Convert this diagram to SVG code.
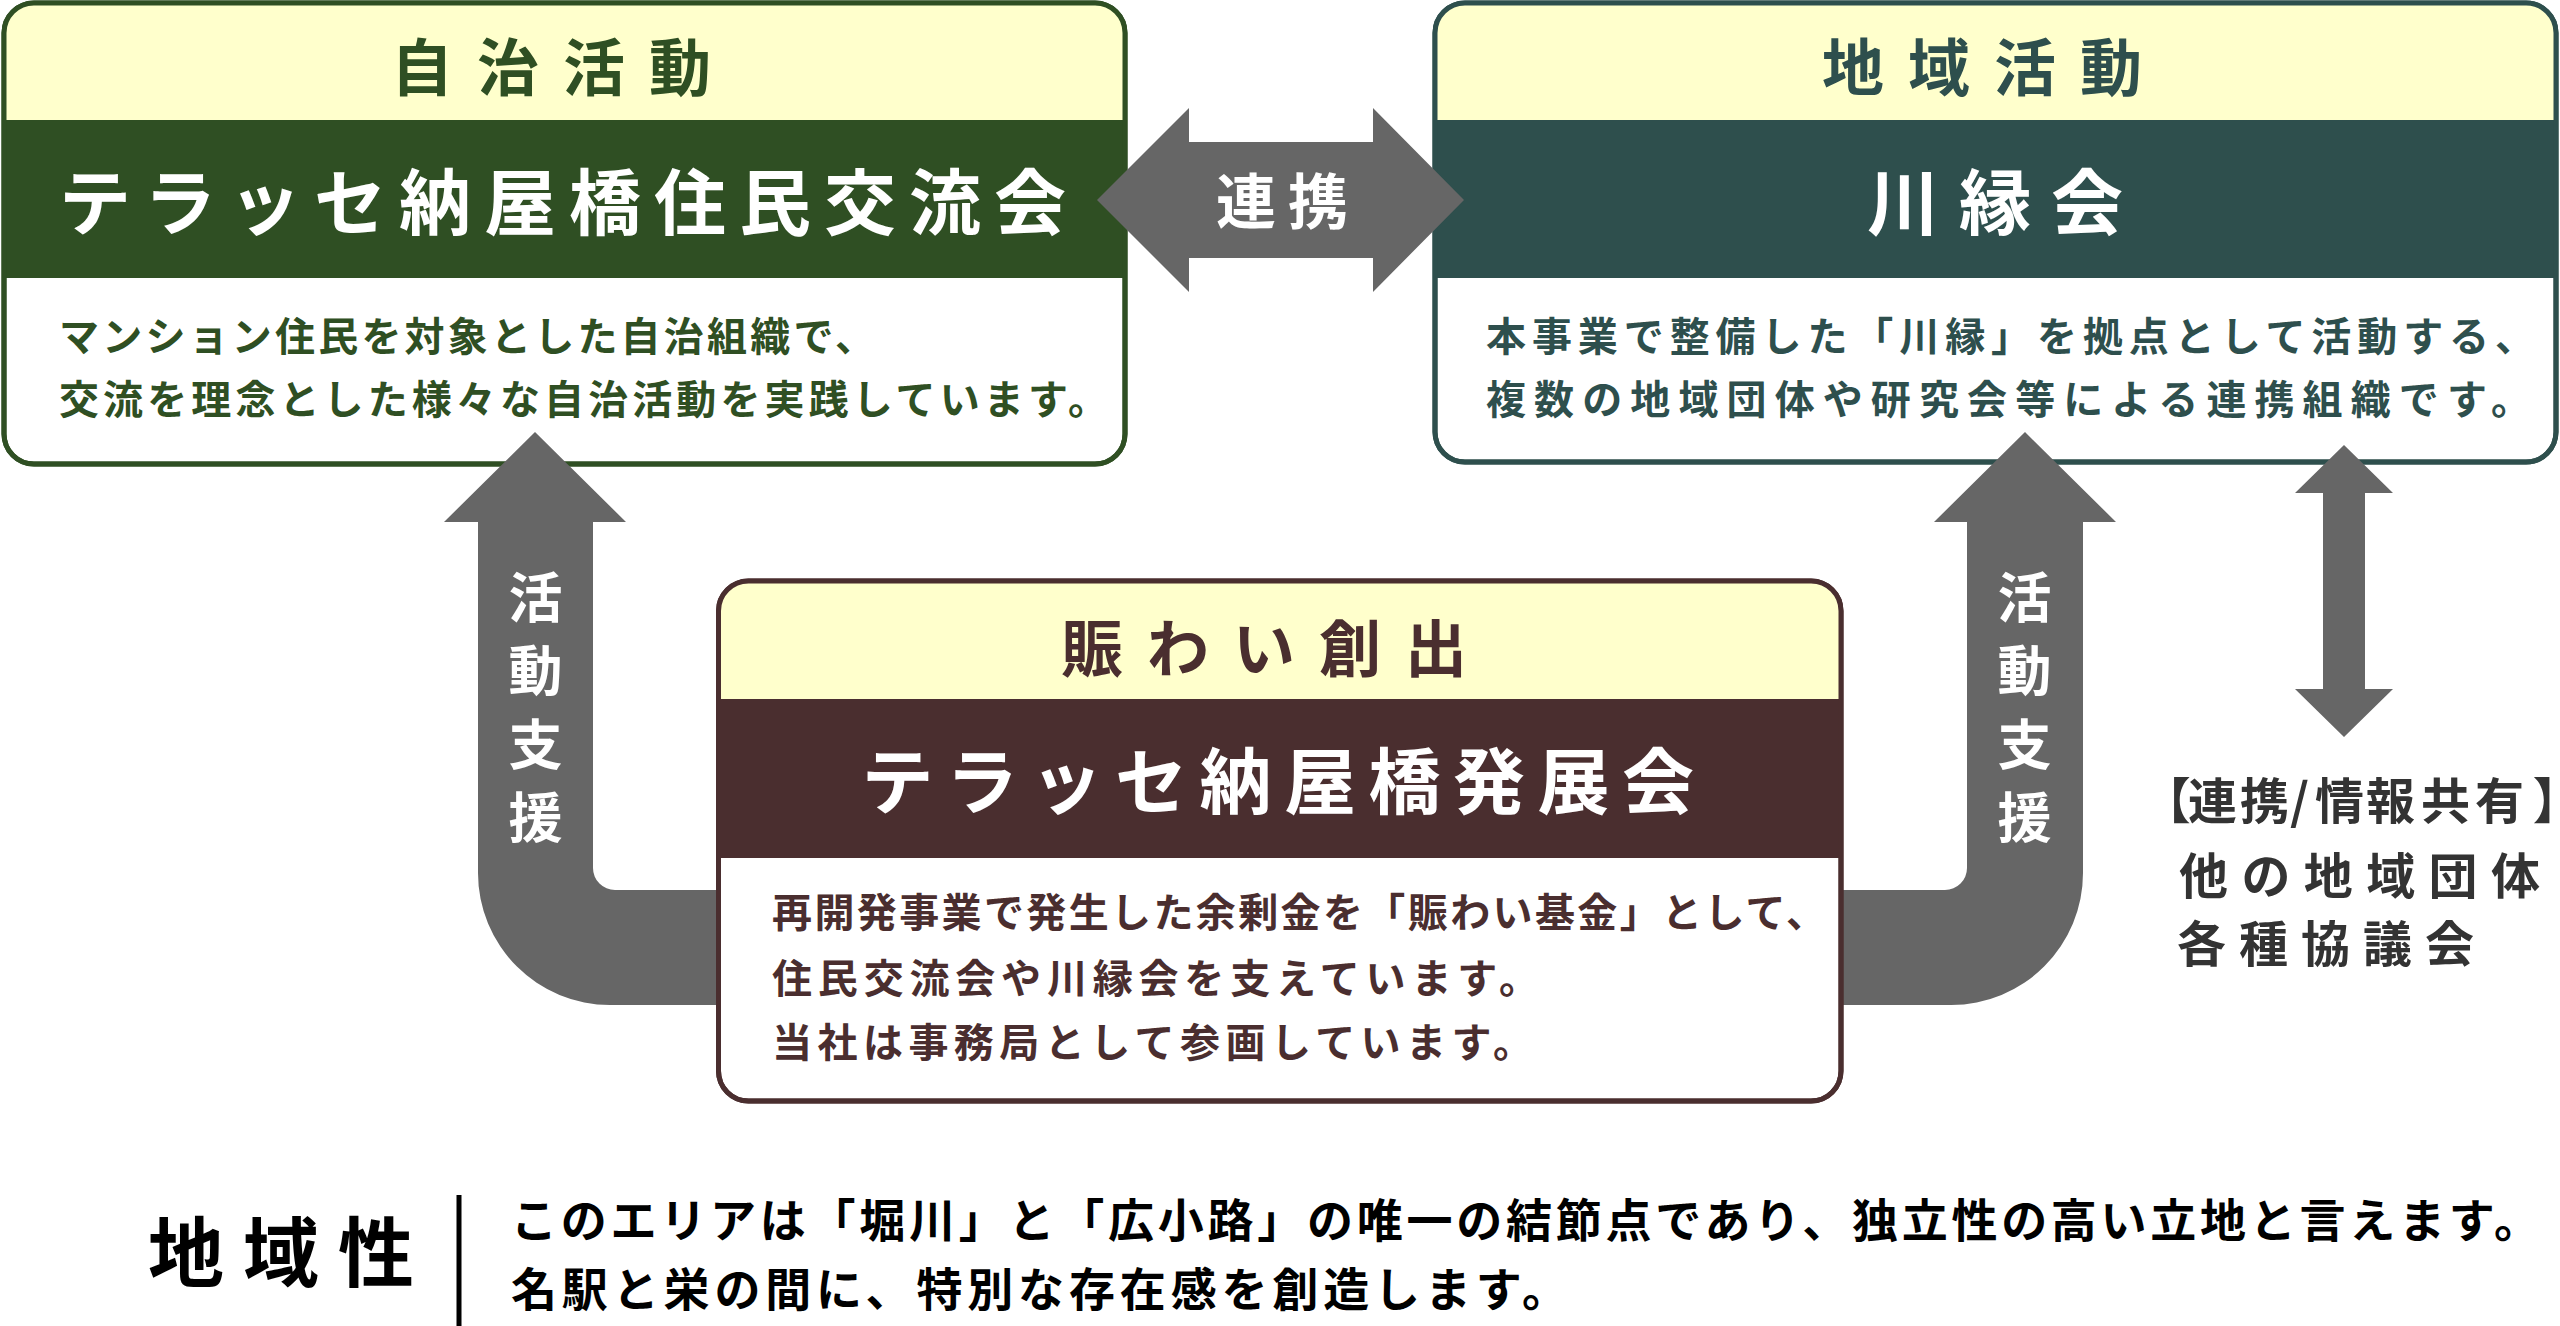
<svg xmlns="http://www.w3.org/2000/svg" width="2560" height="1326" viewBox="0 0 2560 1326">
<style>
text{font-family:"Noto Sans CJK JP","Noto Sans CJK SC",sans-serif;font-weight:700}
.box{fill:#ffffff;stroke-width:5}
.hdr{fill:#ffffcc}
.ttl{font-size:62px;letter-spacing:24px;text-anchor:middle}
.band{font-size:72px;fill:#ffffff;text-anchor:middle}
.desc{font-size:40px}
.arrow{fill:#666666}
.alab{fill:#ffffff;text-anchor:middle}
.grn{fill:#2f4f23}
.teal{fill:#2e4f4d}
.brn{fill:#4a2e2f}
.palt{font-feature-settings:"palt" 1}
</style>
<rect width="2560" height="1326" fill="#ffffff"/>

<g id="node-jichi">
<rect class="box" x="4" y="3" width="1121" height="461" rx="30" stroke="#2f4f23"/>
<path class="hdr" d="M4,120 V33 A30,30 0 0 1 34,3 H1095 A30,30 0 0 1 1125,33 V120 Z"/>
<rect class="grn" x="4" y="120" width="1121" height="158"/>
<rect x="4" y="3" width="1121" height="461" rx="30" fill="none" stroke="#2f4f23" stroke-width="5"/>
<text class="ttl grn" x="563" y="91">自治活動</text>
<text class="band" x="569" y="229" letter-spacing="13">テラッセ納屋橋住民交流会</text>
<text class="desc grn" x="59" y="351" textLength="816" lengthAdjust="spacing">マンション住民を対象とした自治組織で、</text>
<text class="desc grn" x="59" y="414" textLength="1049" lengthAdjust="spacing">交流を理念とした様々な自治活動を実践しています。</text>
</g>

<g id="node-kawaberi">
<rect class="box" x="1435" y="3" width="1121" height="459" rx="30" stroke="#2e4f4d"/>
<path class="hdr" d="M1435,120 V33 A30,30 0 0 1 1465,3 H2526 A30,30 0 0 1 2556,33 V120 Z"/>
<rect class="teal" x="1435" y="120" width="1121" height="158"/>
<rect x="1435" y="3" width="1121" height="459" rx="30" fill="none" stroke="#2e4f4d" stroke-width="5"/>
<text class="ttl teal" x="1994" y="91">地域活動</text>
<text class="band" x="2005" y="229" letter-spacing="20">川縁会</text>
<text class="desc teal" x="1486" y="351" textLength="1049" lengthAdjust="spacing">本事業で整備した「川縁」を拠点として活動する、</text>
<text class="desc teal" x="1486" y="414" textLength="1045" lengthAdjust="spacing">複数の地域団体や研究会等による連携組織です。</text>
</g>

<g id="connectors">
<path class="arrow" d="M1097,200 L1189,108 L1189,142 L1373,142 L1373,108 L1464,200 L1373,292 L1373,258 L1189,258 L1189,292 Z"/>
<text class="alab" x="1288" y="224" font-size="60" letter-spacing="12">連携</text>
<path class="arrow" d="M535,432 L626,522 L593,522 L593,868 A22,22 0 0 0 615,890 L740,890 L740,1005 L610,1005 A132,132 0 0 1 478,873 L478,522 L444,522 Z"/>
<text class="alab" font-size="54"><tspan x="535.5" y="618">活</tspan><tspan x="535.5" y="691">動</tspan><tspan x="535.5" y="765">支</tspan><tspan x="535.5" y="838">援</tspan></text>
<path class="arrow" d="M2025,432 L2116,522 L2083,522 L2083,873 A132,132 0 0 1 1951,1005 L1820,1005 L1820,890 L1945,890 A22,22 0 0 0 1967,868 L1967,522 L1934,522 Z"/>
<text class="alab" font-size="54"><tspan x="2024.5" y="618">活</tspan><tspan x="2024.5" y="691">動</tspan><tspan x="2024.5" y="765">支</tspan><tspan x="2024.5" y="838">援</tspan></text>
<path class="arrow" d="M2344,445 L2393,493 L2365,493 L2365,689 L2393,689 L2344,737 L2295,689 L2323,689 L2323,493 L2295,493 Z"/>
</g>

<g id="node-hatten">
<rect class="box" x="718.5" y="581" width="1122.5" height="520" rx="30" stroke="#4a2e2f"/>
<path class="hdr" d="M718.5,699 V611 A30,30 0 0 1 748.5,581 H1811 A30,30 0 0 1 1841,611 V699 Z"/>
<rect class="brn" x="718.5" y="699" width="1122.5" height="159"/>
<rect x="718.5" y="581" width="1122.5" height="520" rx="30" fill="none" stroke="#4a2e2f" stroke-width="5"/>
<text class="ttl brn" x="1276" y="672">賑わい創出</text>
<text class="band" x="1284" y="808" letter-spacing="12.5">テラッセ納屋橋発展会</text>
<text class="desc brn" x="772" y="927" textLength="1054" lengthAdjust="spacing">再開発事業で発生した余剰金を「賑わい基金」として、</text>
<text class="desc brn" x="772" y="993" textLength="767" lengthAdjust="spacing">住民交流会や川縁会を支えています。</text>
<text class="desc brn" x="772" y="1057" textLength="761" lengthAdjust="spacing">当社は事務局として参画しています。</text>
</g>

<g id="node-others" fill="#333333">
<text class="palt" font-size="49" y="819" x="2165 2188 2240 2290 2315 2366 2421 2475 2534">【連携/情報共有】</text>
<text font-size="49" x="2179" y="894" letter-spacing="13.4">他の地域団体</text>
<text font-size="49" x="2177" y="962" letter-spacing="13">各種協議会</text>
</g>

<g id="node-region" fill="#000000">
<text font-size="76" x="148" y="1281" letter-spacing="19">地域性</text>
<line x1="459" y1="1195" x2="459" y2="1326" stroke="#000000" stroke-width="5"/>
<text font-size="46" x="511" y="1237" textLength="2029" lengthAdjust="spacing">このエリアは「堀川」と「広小路」の唯一の結節点であり、独立性の高い立地と言えます。</text>
<text font-size="46" x="511" y="1306" textLength="1057" lengthAdjust="spacing">名駅と栄の間に、特別な存在感を創造します。</text>
</g>
</svg>
